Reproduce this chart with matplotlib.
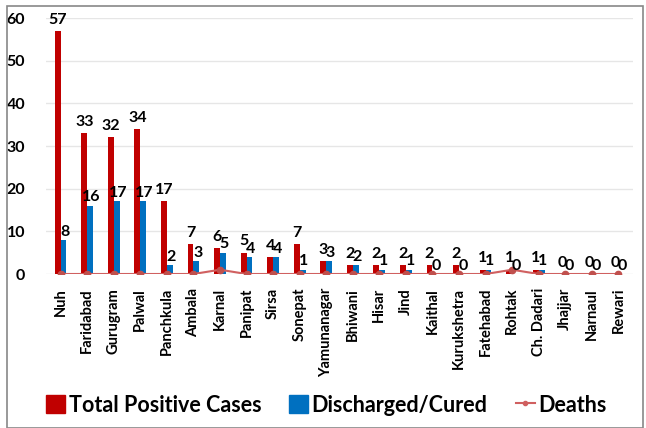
import matplotlib
matplotlib.use("Agg")
import matplotlib.pyplot as plt
import numpy as np
from matplotlib.lines import Line2D
from matplotlib.patches import Patch

districts = ["Nuh", "Faridabad", "Gurugram", "Palwal", "Panchkula", "Ambala", "Karnal",
             "Panipat", "Sirsa", "Sonepat", "Yamunanagar", "Bhiwani", "Hisar", "Jind",
             "Kaithal", "Kurukshetra", "Fatehabad", "Rohtak", "Ch. Dadari", "Jhajjar",
             "Narnaul", "Rewari"]
total_positive = [57, 33, 32, 34, 17, 7, 6, 5, 4, 7, 3, 2, 2, 2, 2, 2, 1, 1, 1, 0, 0, 0]
discharged = [8, 16, 17, 17, 2, 3, 5, 4, 4, 1, 3, 2, 1, 1, 0, 0, 1, 0, 1, 0, 0, 0]
deaths = [0, 0, 0, 0, 0, 0, 1, 0, 0, 0, 0, 0, 0, 0, 0, 0, 0, 1, 0, 0, 0, 0]

plt.rcParams['font.family'] = ['Lato', 'DejaVu Sans']

fig = plt.figure(figsize=(6.46, 4.28), dpi=100)
W, H = 646, 428
ax = fig.add_axes([46 / W, (H - 274) / H, (633 - 46) / W, (274 - 18) / H])

x = np.arange(len(districts))
w = 0.22
red = "#c00000"
blue = "#0070c0"
ax.bar(x - w / 2, total_positive, w, color=red, zorder=2)
ax.bar(x + w / 2, discharged, w, color=blue, zorder=2)
ax.plot(x, deaths, color="#d06060", lw=1.5, marker="o", ms=4.5,
        markerfacecolor="#c0504d", markeredgecolor="#c0504d", zorder=3)

for i in range(len(x)):
    ax.text(x[i] - w / 2, total_positive[i] + 1.0, str(total_positive[i]),
            ha="center", va="bottom", fontsize=11.5, fontweight="bold")
    ax.text(x[i] + w / 2 + 0.05, discharged[i] + 0.3, str(discharged[i]),
            ha="center", va="bottom", fontsize=11.5, fontweight="bold")

ax.set_ylim(0, 60)
ax.set_xlim(-0.55, len(x) - 0.45)
ax.set_yticks(range(0, 61, 10))
ax.yaxis.grid(True, color="#e6e6e6", lw=1)
ax.set_axisbelow(True)
for s in ax.spines.values():
    s.set_visible(False)
ax.tick_params(length=0)
ax.tick_params(axis="y", labelsize=11.5, pad=15)
for lab in ax.get_yticklabels():
    lab.set_fontweight("bold")
ax.set_xticks(x)
ax.set_xticklabels(districts, rotation=90, fontsize=10.5, fontweight="bold", va="top")
ax.tick_params(axis="x", pad=10)

handles = [Patch(color=red), Patch(color=blue),
           Line2D([0], [0], color="#d06060", marker="o", ms=3, lw=1.5)]
fig.legend(handles, ["Total Positive Cases", "Discharged/Cured", "Deaths"],
           loc="center", bbox_to_anchor=(0.505, (H - 405) / H), ncol=3, frameon=False,
           prop={"family": "Lato", "weight": "bold", "size": 15.5},
           handlelength=0.9, handleheight=0.9, handletextpad=0.15, columnspacing=1.3)

fig.add_artist(plt.Rectangle((7 / W, 0), (643 - 7) / W, (H - 6) / H,
                             transform=fig.transFigure, fill=False,
                             edgecolor="#888888", lw=1.2))
fig.savefig("out.png", dpi=100, facecolor="white")
